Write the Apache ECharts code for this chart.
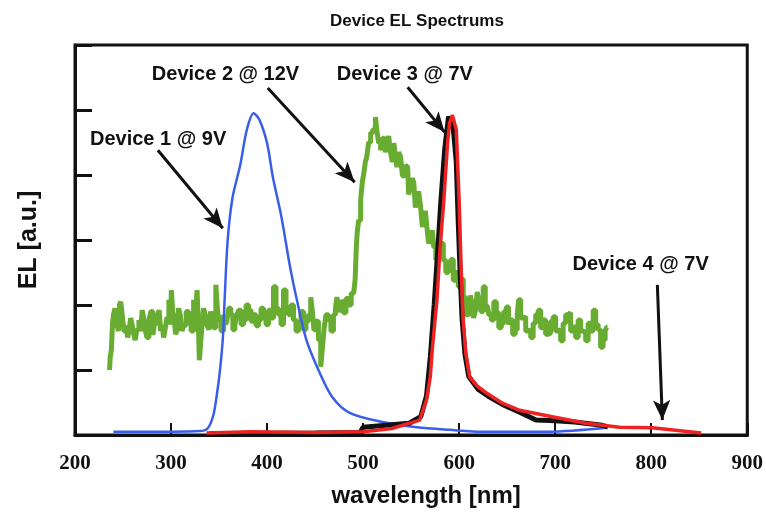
<!DOCTYPE html>
<html>
<head>
<meta charset="utf-8">
<script src="https://cdn.jsdelivr.net/npm/echarts@6/dist/echarts.min.js"></script>
<style>
  html, body { margin: 0; padding: 0; background: #fff; }
  #chart { width: 766px; height: 520px; }
</style>
</head>
<body>
<div id="chart"></div>
<script>
// Electroluminescence spectra: [wavelength nm, intensity a.u.]
const xTicks = [200, 300, 400, 500, 600, 700, 800, 900];

const device1 = [
  [240,0.05],[300,0.05],[330,0.06],[338,0.1],[344,0.3],[348,0.65],[351,1.0],[354,1.5],
  [356,2.15],[359,3.0],[364,3.65],[372,4.15],[379,4.7],[386,4.95],[392,4.85],[400,4.49],
  [406,3.97],[415,3.35],[424,2.58],[431,2.08],[441,1.46],[455,0.95],[468,0.58],[486,0.34],
  [520,0.2],[556,0.12],[590,0.08],[624,0.05],[694,0.05],[753,0.11]
];

const device2 = [
  [236,1.0],[237.3,1.2],[238.5,1.31],[239.5,1.7],[240.6,1.85],[242.6,1.95],[244.7,1.69],[245.8,1.6],
  [246.8,2.0],[248.4,2.05],[249.9,1.85],[252,1.6],[254.1,1.69],[255.6,1.5],[257.2,1.62],[258.8,1.8],
  [260.3,1.69],[261.9,1.55],[263.4,1.46],[265.5,1.62],[267.6,1.77],[269.2,1.6],[270.7,1.92],[272.3,1.8],
  [273.8,1.62],[276,1.5],[278,1.77],[280,1.9],[282.2,1.54],[283.8,1.75],[285.3,1.69],[286.9,1.85],
  [288.4,1.92],[290,1.6],[291.5,1.69],[293,1.5],[294.6,1.62],[296.7,1.8],[298.8,2.08],[299.8,1.7],
  [300.9,2.23],[302.5,1.9],[304,1.77],[305.6,1.55],[307.1,1.62],[308.7,1.95],[310.3,1.85],[312.4,1.6],
  [314.4,1.69],[317,1.9],[319.6,1.77],[322.2,1.6],[324.8,2.08],[326.3,1.85],[327.9,2.23],[329,1.7],
  [330,1.15],[331.5,1.4],[333.1,1.69],[334.7,1.95],[336.3,1.85],[338.3,1.7],[340.4,1.62],[342,1.9],
  [343.5,1.77],[345.6,1.65],[347.7,2.31],[349.2,1.9],[350.8,1.77],[353.4,1.6],[356,1.85],[357.5,1.7],
  [359.1,1.77],[361.2,1.95],[363.3,1.85],[365.4,1.62],[367.5,1.69],[369.5,1.85],[371.6,1.92],[374.2,1.7],
  [376.8,1.77],[379.4,2.0],[382,1.92],[384.6,1.75],[387.2,1.85],[389.8,1.68],[392.4,1.77],[395,1.95],
  [397.6,1.85],[400.2,1.7],[402.8,1.92],[405.4,1.8],[408,2.28],[410.6,1.95],[413.2,1.85],[415.8,1.7],
  [418.4,2.23],[421,1.95],[423.6,1.85],[426.2,2.0],[428.8,1.77],[431.4,1.6],[434,1.69],[436.6,1.9],
  [439.2,1.62],[441.8,1.75],[444.4,1.85],[446.5,2.12],[448,1.9],[449.6,1.62],[452.2,1.75],[454.8,1.46],
  [456.9,1.05],[458.5,1.35],[460,1.62],[462.6,1.85],[465.2,1.77],[467.8,1.6],[470.4,1.85],[472,1.95],
  [473.5,2.12],[475.6,1.92],[478.2,2.05],[480.8,1.88],[483.4,2.1],[486,2.0],[489.2,2.18],[491.2,2.15],
  [492.3,2.4],[493.3,2.85],[494.3,3.11],[496.4,3.3],[498.5,3.62],[500,3.9],[501.6,4.03],[503,4.2],
  [504.7,4.28],[506.8,4.5],[508.9,4.65],[511.5,4.7],[514.1,4.89],[515.1,4.65],[517.2,4.5],[519.3,4.38],
  [520.8,4.55],[522.4,4.58],[524,4.35],[525.6,4.49],[527.6,4.6],[529.7,4.34],[531.2,4.2],[532.8,4.49],
  [534.4,4.3],[536,4.12],[538,4.35],[540.1,4.28],[541.6,4.0],[543.2,3.97],[544.8,4.15],[546.4,4.12],
  [548.4,3.7],[550.5,3.82],[552,3.95],[553.6,3.88],[555.2,3.5],[556.8,3.62],[558.8,3.75],[560.9,3.51],
  [562.5,3.2],[564,3.31],[565.6,3.45],[567.2,3.2],[569.2,2.95],[571.3,3.0],[572.8,3.15],[574.4,2.89],
  [577,2.7],[579.6,2.8],[582.2,2.95],[584.8,2.69],[587.4,2.5],[590,2.58],[592.6,2.7],[595.2,2.38],
  [597.8,2.5],[600.4,2.28],[603,2.4],[605.6,2.12],[608.2,1.85],[610.8,1.88],[612.4,2.15],[614,2.03],
  [616,1.8],[618.1,1.92],[619.6,2.2],[621.2,2.08],[623.8,1.9],[626.4,2.28],[628,2.0],[629.6,1.97],
  [632.2,1.85],[634.8,1.77],[637.4,2.05],[640,1.88],[642.6,1.65],[645.2,1.72],[647.8,1.9],[650.4,1.97],
  [652.4,1.7],[654.5,1.77],[657,1.55],[659.7,1.62],[661.2,1.85],[662.8,2.08],[665.4,1.8],[668,1.82],
  [670.6,1.6],[673.2,1.62],[675.8,1.5],[678.4,1.72],[681,1.85],[683.6,1.92],[686.2,1.65],[688.8,1.77],
  [691.4,1.55],[694,1.57],[696.6,1.75],[699.2,1.82],[701.8,1.6],[704.4,1.62],[707,1.45],[709.6,1.72],
  [712.2,1.85],[714.8,1.88],[717.4,1.6],[720,1.66],[722.6,1.5],[725.2,1.77],[727.8,1.6],[730.5,1.57],
  [733,1.45],[735.7,1.72],[738.3,1.6],[740.9,1.92],[743.4,1.7],[746,1.62],[748.6,1.35],[751.2,1.46],
  [752.8,1.6],[754.4,1.66]
];

const device3 = [
  [340,0.02],[450,0.03],[497,0.04],[500,0.12],[548,0.18],[560,0.28],[566,0.6],[570,1.2],
  [574,2.0],[578,2.9],[581,3.6],[585,4.4],[589,4.9],[591,4.92],[594,4.7],[597,4.2],[599,3.3],
  [601,2.5],[603,1.8],[606,1.25],[610,0.9],[620,0.7],[630,0.6],[645,0.47],[663,0.35],
  [680,0.23],[700,0.22],[720,0.2],[749,0.15],[755,0.12]
];

const device4 = [
  [337,0.03],[382,0.05],[450,0.04],[500,0.05],[530,0.1],[548,0.18],[559,0.23],[566,0.54],
  [570,0.9],[572,1.31],[577,2.1],[580,2.85],[584,3.6],[588,4.5],[590,4.8],[593,4.92],
  [597,4.7],[600,3.6],[602,2.6],[604,1.8],[607,1.25],[611,0.89],[619,0.75],[628,0.65],
  [645,0.49],[663,0.38],[697,0.28],[732,0.18],[767,0.12],[801,0.11],[852,0.03]
];

// Callout text and arrows, in data coordinates
const labels = [
  { text: 'Device 2 @ 12V', at: [280, 5.57] },
  { text: 'Device 3 @ 7V',  at: [472.5, 5.57] },
  { text: 'Device 1 @ 9V',  at: [215.6, 4.58] },
  { text: 'Device 4 @ 7V',  at: [718, 2.65] }
];
const arrows = [
  [[286.3, 4.38], [353.9, 3.18]],
  [[400.7, 5.34], [491.2, 3.89]],
  [[546.4, 5.35], [584.8, 4.66]],
  [[806.4, 2.31], [811.6, 0.23]]
];

const chart = echarts.init(document.getElementById('chart'), null, { renderer: 'canvas' });

const sansFamily = 'Liberation Sans, Arial, sans-serif';
const sansBold = { fontFamily: sansFamily, fontWeight: 'bold', color: '#111' };

chart.setOption({
  animation: false,
  backgroundColor: '#fff',
  title: {
    text: 'Device EL Spectrums',
    left: 412, top: 8, textAlign: 'center',
    textStyle: Object.assign({ fontSize: 17 }, sansBold)
  },
  grid: {
    left: 75, right: 16, top: 45, bottom: 85,
    show: true, borderColor: '#111', borderWidth: 3, backgroundColor: 'transparent'
  },
  xAxis: {
    type: 'value', min: xTicks[0], max: xTicks[xTicks.length - 1], interval: 100,
    name: 'wavelength [nm]', nameLocation: 'middle', nameGap: 49,
    nameTextStyle: Object.assign({ fontSize: 24, padding: [0, 0, 0, 30] }, sansBold),
    axisLine: { lineStyle: { color: '#111', width: 3 } },
    axisTick: { inside: true, length: 12, lineStyle: { color: '#111', width: 2 } },
    axisLabel: { margin: 18, fontFamily: 'Liberation Serif, Times New Roman, serif', fontWeight: 'bold', fontSize: 21, color: '#111' },
    splitLine: { show: false }
  },
  yAxis: {
    type: 'value', min: 0, max: 6, interval: 1,
    name: 'EL [a.u.]', nameLocation: 'middle', nameGap: 33, nameRotate: 90,
    nameTextStyle: Object.assign({ fontSize: 25 }, sansBold),
    axisLine: { lineStyle: { color: '#111', width: 3 } },
    axisTick: { inside: true, length: 17, lineStyle: { color: '#111', width: 3 } },
    axisLabel: { show: false },
    splitLine: { show: false }
  },
  series: [
    {
      name: 'Device 2', type: 'line', data: device2, showSymbol: false, z: 2,
      step: 'middle',
      lineStyle: { color: '#68ac32', width: 5 }
    },
    {
      name: 'Device 1', type: 'line', data: device1, showSymbol: false, smooth: 0.3, z: 3,
      lineStyle: { color: '#3a5ee8', width: 2.5 }
    },
    {
      name: 'Device 3', type: 'line', data: device3, showSymbol: false, z: 4,
      lineStyle: { color: '#111', width: 5 }
    },
    {
      name: 'Device 4', type: 'line', data: device4, showSymbol: false, z: 5,
      lineStyle: { color: '#ee2222', width: 3.5 },
      markLine: {
        silent: true, symbol: ['none', 'arrow'], symbolSize: [13, 20],
        label: { show: false },
        lineStyle: { color: '#111', width: 3, type: 'solid' },
        data: arrows.map(a => [{ coord: a[0] }, { coord: a[1] }])
      }
    }
  ]
});

// Callout texts placed through the axes' own scales
chart.setOption({
  graphic: labels.map(l => {
    const p = chart.convertToPixel({ xAxisIndex: 0, yAxisIndex: 0 }, l.at);
    return {
      type: 'text', left: p[0], top: p[1] - 8, z: 10,
      style: { text: l.text, fontSize: 20, fill: '#111', fontFamily: sansFamily, fontWeight: 'bold' }
    };
  })
});
</script>
</body>
</html>
